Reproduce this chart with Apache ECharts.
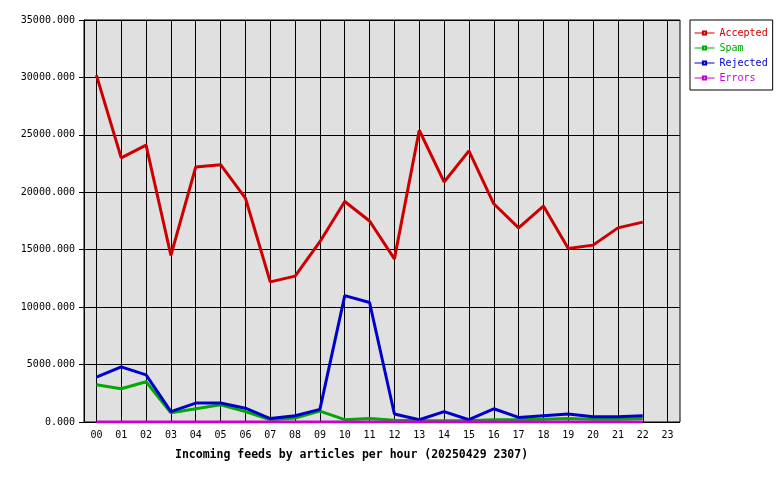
<!DOCTYPE html>
<html><head><meta charset="utf-8">
<script src="https://cdn.jsdelivr.net/npm/echarts@6/dist/echarts.min.js"></script>
<style>html,body{margin:0;padding:0;background:#fff}#c{width:780px;height:480px}</style>
</head><body><div id="c"></div>
<script>
const hours = ['00','01','02','03','04','05','06','07','08','09','10','11','12','13','14','15','16','17','18','19','20','21','22','23'];
const accepted = [30200,23000,24100,14500,22200,22400,19500,12200,12700,15700,19200,17500,14200,25400,20900,23600,19000,16900,18800,15100,15400,16900,17400,null];
const spam     = [3250,2900,3500,800,1150,1500,900,200,350,950,200,300,150,100,100,100,200,200,250,300,250,250,300,null];
const rejected = [3900,4800,4100,900,1650,1650,1200,300,550,1100,11000,10400,700,200,900,200,1150,400,550,700,450,450,550,null];
const errors   = [10,10,10,10,10,10,10,10,10,10,10,10,10,10,10,10,10,10,10,10,10,10,10,null];
const seriesNames = ['Accepted','Spam','Rejected','Errors'];
const seriesColors = ['#cc0000','#00aa00','#0000cc','#cc00cc'];
const titleText = 'Incoming feeds by articles per hour (20250429 2307)';

const font = 'DejaVu Sans Mono';
const chart = echarts.init(document.getElementById('c'), null, {renderer:'canvas'});
const values = [accepted, spam, rejected, errors];
chart.setOption({
  animation:false,
  backgroundColor:'#ffffff',
  title:{text:titleText,left:170,top:444,textStyle:{fontFamily:font,fontSize:11.5,fontWeight:'bold',color:'#000'}},
  legend:{
    orient:'vertical',left:690,top:20,
    padding:[7,5,6,4],itemGap:3,itemWidth:20,itemHeight:4,
    borderColor:'#000',borderWidth:1,backgroundColor:'#fff',
    lineStyle:{width:1},
    textStyle:{fontFamily:font,fontSize:10,lineHeight:12},
    data:seriesNames.map((n,i)=>({name:n,textStyle:{color:seriesColors[i]}}))
  },
  grid:[
    {left:84,top:20,width:596,height:402,show:true,backgroundColor:'#e0e0e0',borderColor:'#000',borderWidth:1},
    {left:96.4,top:20,width:571.2,height:402}
  ],
  xAxis:[
    {gridIndex:0,type:'value',min:0,max:1,show:false},
    {gridIndex:1,type:'category',data:hours,boundaryGap:false,
     axisLine:{show:false},axisTick:{show:false},
     axisLabel:{margin:8,color:'#000',fontFamily:font,fontSize:10,interval:0},
     splitLine:{show:true,interval:0,lineStyle:{color:'#000',width:1}}}
  ],
  yAxis:[
    {gridIndex:0,type:'value',min:0,max:35000,interval:5000,
     axisLine:{show:true,lineStyle:{color:'#000'}},
     axisTick:{show:true,length:5,lineStyle:{color:'#000'}},
     axisLabel:{margin:9,color:'#000',fontFamily:font,fontSize:10,formatter:v=>v.toFixed(3)},
     splitLine:{show:true,lineStyle:{color:'#000',width:1}}},
    {gridIndex:1,type:'value',min:0,max:35000,interval:5000,show:false,splitLine:{show:false}}
  ],
  series:seriesNames.map((n,i)=>({
    name:n,type:'line',xAxisIndex:1,yAxisIndex:1,data:values[i],
    showSymbol:false,symbol:'emptyRect',symbolSize:3,
    itemStyle:{color:seriesColors[i]},
    lineStyle:{color:seriesColors[i],width:3},
    z:2+i
  }))
});
</script></body></html>
